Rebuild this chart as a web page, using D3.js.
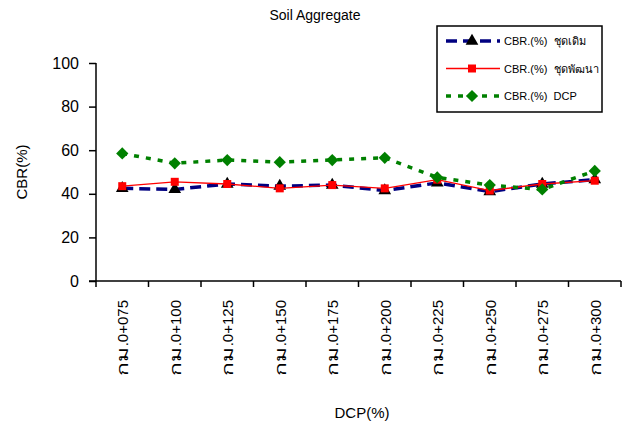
<!DOCTYPE html>
<html>
<head>
<meta charset="utf-8">
<script src="https://cdn.jsdelivr.net/npm/d3@7"></script>
<style>
  body { margin: 0; background: #fff; }
  svg { font-family: "Liberation Sans", Arial, sans-serif; }
</style>
</head>
<body>
<svg id="chart" width="633" height="425"></svg>
<script>
const stations = ['กม.0+075', 'กม.0+100', 'กม.0+125', 'กม.0+150', 'กม.0+175',
  'กม.0+200', 'กม.0+225', 'กม.0+250', 'กม.0+275', 'กม.0+300'];
const cbrOld = [42.5, 42, 44.5, 43.5, 44, 41.5, 45, 41, 44.5, 46.5];
const cbrNew = [43.5, 45.5, 44.5, 42.5, 44, 42.5, 46.5, 41.5, 44.5, 46];
const cbrDcp = [58.5, 54, 55.5, 54.5, 55.5, 56.5, 47.5, 44, 42, 50.5];
const yTicks = [0, 20, 40, 60, 80, 100];
const seriesNames = ['CBR.(%)  ชุดเดิม', 'CBR.(%)  ชุดพัฒนา', 'CBR.(%)  DCP'];

const svg = d3.select('#chart');
const plotL = 96, plotR = 621, plotT = 63, plotB = 281;

const x = d3.scaleBand().domain(stations).range([plotL, plotR]);
const y = d3.scaleLinear().domain([0, 100]).range([plotB, plotT]);

// title
svg.append('text').attr('x', 315).attr('y', 20).attr('text-anchor', 'middle')
  .attr('font-size', 14).text('Soil Aggregate');

// y axis
const yAxis = svg.append('g').attr('transform', `translate(${plotL},0)`)
  .call(d3.axisLeft(y).tickValues(yTicks).tickSize(7).tickSizeOuter(0));
yAxis.select('.domain').attr('stroke', '#000').attr('stroke-width', 1.5)
  .attr('d', `M0,${plotT}V${plotB + 6}`);
yAxis.selectAll('.tick line').attr('stroke-width', 1.5);
yAxis.selectAll('.tick text').attr('font-size', 16).attr('x', -17)
  .attr('font-family', '"Liberation Sans", Arial, sans-serif').attr('fill', '#000');

// x axis: ticks at band edges
const xAxis = svg.append('g').attr('transform', `translate(0,${plotB})`);
xAxis.append('line').attr('x1', plotL - 7).attr('x2', plotR).attr('stroke', '#000').attr('stroke-width', 1.5);
xAxis.selectAll('line.tk').data(stations)
  .join('line').attr('class', 'tk')
  .attr('x1', d => x(d) + x.bandwidth())
  .attr('x2', d => x(d) + x.bandwidth())
  .attr('y1', 0).attr('y2', 6).attr('stroke', '#000').attr('stroke-width', 1.5);
// thai prefix drawn wider, like the original font
xAxis.selectAll('g.lbl').data(stations).join('g').attr('class', 'lbl')
  .attr('transform', d => `translate(${x(d) + x.bandwidth() / 2 + 6},19) rotate(-90)`)
  .each(function (d) {
    const g = d3.select(this);
    const num = g.append('text').attr('text-anchor', 'end').attr('font-size', 15).text(d.slice(2));
    const len = num.node().getComputedTextLength();
    g.append('text').attr('text-anchor', 'end').attr('font-size', 15)
      .attr('transform', `translate(${-len},0) scale(1.5,1)`).text(d.slice(0, 2));
  });

// axis titles
svg.append('text').attr('transform', 'translate(27,172) rotate(-90)')
  .attr('text-anchor', 'middle').attr('font-size', 15).text('CBR(%)');
svg.append('text').attr('x', 362).attr('y', 418).attr('text-anchor', 'middle')
  .attr('font-size', 15).text('DCP(%)');

const cx = d => x(d) + x.bandwidth() / 2;
const line = d3.line().x(d => cx(d.s)).y(d => y(d.v));
const zip = vals => stations.map((s, i) => ({ s, v: vals[i] }));

const tri = d3.symbol().type(d3.symbolTriangle).size(70);
const sq = d3.symbol().type(d3.symbolSquare).size(64);
const dia = d3.symbol().type(d3.symbolSquare).size(75);

const series = [
  { vals: cbrOld, color: '#000080', width: 3.5, dash: '11,6', sym: tri, fill: '#000', rot: 0 },
  { vals: cbrNew, color: '#ff0000', width: 1.3, dash: null, sym: sq, fill: '#ff0000', rot: 0 },
  { vals: cbrDcp, color: '#008000', width: 3.5, dash: '5,7', sym: dia, fill: '#008000', rot: 45 }
];

series.forEach(s => {
  svg.append('path').datum(zip(s.vals)).attr('d', line).attr('fill', 'none')
    .attr('stroke', s.color).attr('stroke-width', s.width)
    .attr('stroke-dasharray', s.dash);
  svg.append('g').selectAll('path').data(zip(s.vals)).join('path')
    .attr('transform', d => `translate(${cx(d.s)},${y(d.v)}) rotate(${s.rot})`)
    .attr('d', s.sym).attr('fill', s.fill);
});

// legend
const lg = svg.append('g');
lg.append('rect').attr('x', 437).attr('y', 26).attr('width', 165).attr('height', 86)
  .attr('fill', '#fff').attr('stroke', '#000').attr('stroke-width', 1.5);
series.forEach((s, i) => {
  const ly = 41 + i * 27.5;
  lg.append('line').attr('x1', 446).attr('x2', 500).attr('y1', ly).attr('y2', ly)
    .attr('stroke', s.color).attr('stroke-width', s.width)
    .attr('stroke-dasharray', s.dash);
  lg.append('path').attr('transform', `translate(472,${ly}) rotate(${s.rot})`)
    .attr('d', s.sym).attr('fill', s.fill);
  lg.append('text').attr('x', 504).attr('y', ly + 4).attr('font-size', 11)
    .style('white-space', 'pre').text(seriesNames[i]);
});
</script>
</body>
</html>
